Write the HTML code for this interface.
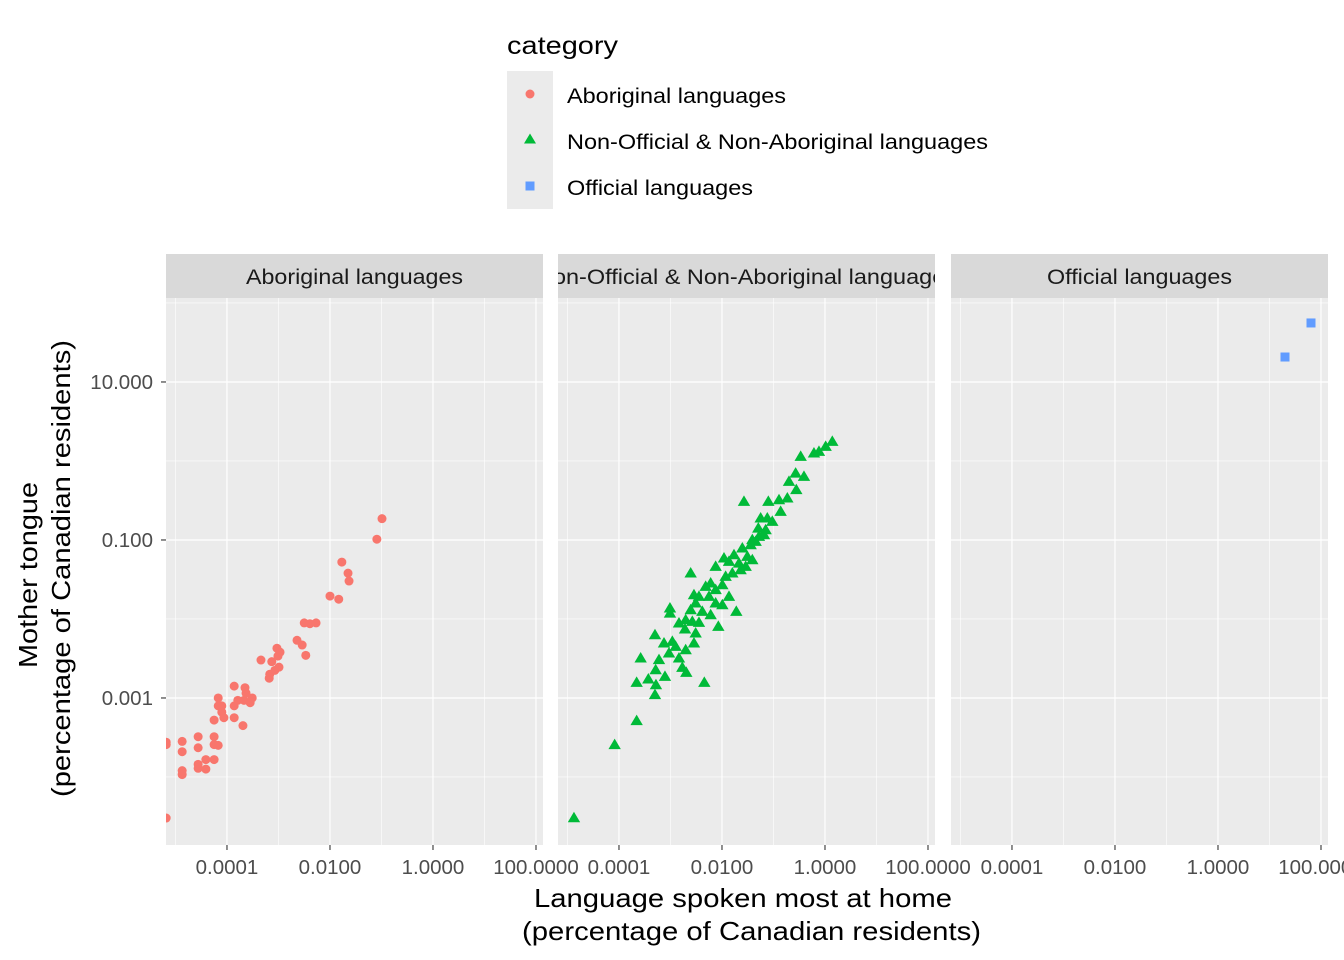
<!DOCTYPE html>
<html><head><meta charset="utf-8"><style>
html,body{margin:0;padding:0;background:#fff;}
svg{display:block;font-family:"Liberation Sans",Arial,sans-serif;}
</style></head><body>
<svg id="chart" width="1344" height="960" viewBox="0 0 1344 960" xmlns="http://www.w3.org/2000/svg">
<g>
<text x="507" y="54" font-size="25" textLength="111" lengthAdjust="spacingAndGlyphs" fill="#000">category</text>
<rect x="507" y="71" width="46" height="138" fill="#EBEBEB"/>
<circle cx="530" cy="94" r="4.5" fill="#F8766D"/>
<polygon points="530,133.5 536,143.5 524,143.5" fill="#00BA38"/>
<rect x="525.5" y="181.5" width="9" height="9" fill="#619CFF"/>
<text x="567" y="103" font-size="21" textLength="219" lengthAdjust="spacingAndGlyphs" fill="#000">Aboriginal languages</text>
<text x="567" y="149" font-size="21" textLength="421" lengthAdjust="spacingAndGlyphs" fill="#000">Non-Official &amp; Non-Aboriginal languages</text>
<text x="567" y="195" font-size="21" textLength="186" lengthAdjust="spacingAndGlyphs" fill="#000">Official languages</text>
</g>
<g id="panels"></g>
<text x="534" y="907" font-size="26" textLength="418" lengthAdjust="spacingAndGlyphs" fill="#000">Language spoken most at home</text>
<text x="522" y="940" font-size="26" textLength="459" lengthAdjust="spacingAndGlyphs" fill="#000">(percentage of Canadian residents)</text>
<text transform="translate(37,668) rotate(-90)" font-size="26" textLength="186" lengthAdjust="spacingAndGlyphs" fill="#000">Mother tongue</text>
<text transform="translate(70,797) rotate(-90)" font-size="26" textLength="457" lengthAdjust="spacingAndGlyphs" fill="#000">(percentage of Canadian residents)</text>
</svg>
<script>
// log10 of percentages
const panelNames = ["Aboriginal languages","Non-Official & Non-Aboriginal languages","Official languages"];
const xTickValues = [-4,-2,0,2];
const xTickLabels = ["0.0001","0.0100","1.0000","100.0000"];
const xMinorValues = [-5,-3,-1,1];
const yTickValues = [1,-1,-3];
const yTickLabels = ["10.000","0.100","0.001"];
const yMinorValues = [2,0,-2,-4];

const aborigHomeLog = [-5.18,-5.18,-5.18,-4.87,-4.87,-4.87,-4.87,-4.56,-4.56,-4.56,-4.56,-4.41,-4.41,-4.25,-4.25,-4.25,-4.25,-4.17,-4.17,-4.17,-4.10,-4.10,-4.06,-3.86,-3.86,-3.86,-3.79,-3.69,-3.65,-3.67,-3.63,-3.55,-3.51,-3.34,-3.18,-3.17,-3.13,-3.07,-3.03,-3.01,-2.99,-2.97,-2.64,-2.54,-2.50,-2.47,-2.39,-2.27,-2.00,-1.83,-1.77,-1.65,-1.63,-1.09,-0.99];
const aborigMotherLog = [-3.56,-3.59,-4.52,-3.55,-3.68,-3.92,-3.97,-3.49,-3.63,-3.84,-3.89,-3.78,-3.90,-3.28,-3.49,-3.59,-3.78,-3.00,-3.10,-3.60,-3.10,-3.18,-3.25,-2.85,-3.25,-3.10,-3.03,-3.35,-2.87,-3.03,-2.94,-3.06,-3.00,-2.52,-2.75,-2.70,-2.54,-2.65,-2.37,-2.47,-2.61,-2.42,-2.27,-2.33,-2.05,-2.46,-2.06,-2.05,-1.71,-1.75,-1.28,-1.42,-1.52,-0.99,-0.73];

const nonOffHomeLog = [-4.874,-4.084,-3.657,-3.301,-3.657,-3.282,-3.430,-2.343,-3.579,-3.301,-3.107,-2.693,-2.770,-3.288,-3.223,-3.126,-2.964,-3.029,-2.835,-2.705,-2.544,-2.511,-2.718,-2.705,-2.576,-2.447,-3.010,-3.010,-2.544,-2.511,-2.382,-2.220,-2.071,-2.608,-2.220,-2.123,-1.961,-1.993,-1.929,-1.864,-1.993,-1.722,-1.767,-1.605,-1.670,-1.540,-1.411,-1.443,-1.346,-1.282,-1.184,-1.295,-1.249,-1.120,-1.023,-0.861,-1.573,-1.100,-0.893,-0.731,-0.699,-0.570,-0.408,-0.557,-0.472,-0.214,-0.117,0.013,0.142,-2.252,-2.123,-2.317,-1.799,-1.638,-1.508,-1.864,-2.835,-2.447,-2.900,-2.608,-2.123,-1.411,-1.152];
const nonOffMotherLog = [-4.52,-3.595,-3.291,-2.962,-2.806,-2.836,-2.764,-2.806,-2.498,-2.203,-2.730,-2.680,-2.616,-2.646,-2.519,-2.308,-2.287,-2.435,-2.498,-2.393,-2.308,-2.182,-2.131,-2.013,-2.034,-2.047,-1.865,-1.929,-1.697,-1.802,-1.908,-1.950,-2.097,-1.422,-1.549,-1.338,-1.232,-1.570,-1.465,-1.718,-1.823,-1.908,-1.190,-1.106,-1.296,-1.338,-1.254,-1.064,-1.022,-0.958,-0.937,-0.853,-0.726,-0.726,-0.768,-0.642,-0.515,-0.515,-0.494,-0.473,-0.262,-0.157,-0.199,-0.367,0.054,0.097,0.118,0.181,0.244,-1.718,-1.802,-1.591,-1.422,-1.380,-1.211,-1.275,-2.055,-1.718,-2.351,-1.887,-1.633,-1.000,-0.874];

const officialHomeLog = [1.301,1.806];
const officialMotherLog = [1.316,1.747];

const NS="http://www.w3.org/2000/svg";
const root=document.getElementById('panels');
function mk(tag,attrs,parent){const e=document.createElementNS(NS,tag);for(const k in attrs)e.setAttribute(k,attrs[k]);(parent||root).appendChild(e);return e;}
const panelLefts=[166,558,951], panelW=377, pTop=298, pBottom=845;
const stripLens=[217,421,185];
const xMin=-5.184, xMax=2.136, yMin=-4.861, yMax=2.063;
function xScale(p,v){return panelLefts[p]+(v-xMin)/(xMax-xMin)*panelW;}
function yScale(v){return pTop+(yMax-v)/(yMax-yMin)*(pBottom-pTop);}

const series=[[aborigHomeLog,aborigMotherLog,'circle','#F8766D'],[nonOffHomeLog,nonOffMotherLog,'tri','#00BA38'],[officialHomeLog,officialMotherLog,'sq','#619CFF']];
const defs=mk('defs',{});
for(let p=0;p<3;p++){
  const L=panelLefts[p];
  const cp=mk('clipPath',{id:'clip'+p},defs);mk('rect',{x:L,y:pTop,width:panelW,height:pBottom-pTop},cp);
  const cs=mk('clipPath',{id:'clips'+p},defs);mk('rect',{x:L,y:254,width:panelW,height:44},cs);
  const g=mk('g',{});
  
  
  const bg=mk('rect',{x:L,y:pTop,width:panelW,height:pBottom-pTop,fill:'#EBEBEB'},g);
  
  
  const st=mk('rect',{x:L,y:254,width:panelW,height:44,fill:'#D9D9D9'},g);
  
  
  const sg=mk('g',{'clip-path':'url(#clips'+p+')'},g);
  const stt=mk('text',{x:L+panelW/2-stripLens[p]/2,y:284,'font-size':21,textLength:stripLens[p],lengthAdjust:'spacingAndGlyphs',fill:'#1A1A1A'},sg);
  stt.textContent=panelNames[p];
  
  
  xMinorValues.forEach(v=>{const x=xScale(p,v);const l=mk('line',{x1:x,x2:x,y1:pTop,y2:pBottom,stroke:'#fff','stroke-width':0.6},g);});
  yMinorValues.forEach(v=>{const y=yScale(v);if(y<pTop)return;const l=mk('line',{x1:L,x2:L+panelW,y1:y,y2:y,stroke:'#fff','stroke-width':0.6},g);});
  xTickValues.forEach((v,i)=>{const x=xScale(p,v);const l=mk('line',{x1:x,x2:x,y1:pTop,y2:pBottom,stroke:'#fff','stroke-width':1.2},g);
    const tk=mk('line',{x1:x,x2:x,y1:pBottom,y2:pBottom+5,stroke:'#333','stroke-width':1.1},g);
    const t=mk('text',{x:x,y:874,'font-size':20.5,'text-anchor':'middle',fill:'#4D4D4D'},g);t.textContent=xTickLabels[i];});
  yTickValues.forEach(v=>{const y=yScale(v);const l=mk('line',{x1:L,x2:L+panelW,y1:y,y2:y,stroke:'#fff','stroke-width':1.2},g);});
  const pts=mk('g',{'clip-path':'url(#clip'+p+')'},g);
  
  
  const [xs,ys,shape,col]=series[p];
  xs.forEach((xv,i)=>{const cx=xScale(p,xv),cy=yScale(ys[i]);let e;
    if(shape==='circle')e=mk('circle',{cx:cx,cy:cy,r:4.5,fill:col},pts);
    else if(shape==='tri')e=mk('polygon',{points:`${cx},${cy-6.3} ${cx+6.2},${cy+4.2} ${cx-6.2},${cy+4.2}`,fill:col},pts);
    else e=mk('rect',{x:cx-4.5,y:cy-4.5,width:9,height:9,fill:col},pts);
    
    });
}
yTickValues.forEach((v,i)=>{const y=yScale(v);
  const tk=mk('line',{x1:161,x2:166,y1:y,y2:y,stroke:'#333','stroke-width':1.1});
  const t=mk('text',{x:153,y:y+7,'font-size':20.5,'text-anchor':'end',fill:'#4D4D4D'});t.textContent=yTickLabels[i];});
</script>
</body></html>
